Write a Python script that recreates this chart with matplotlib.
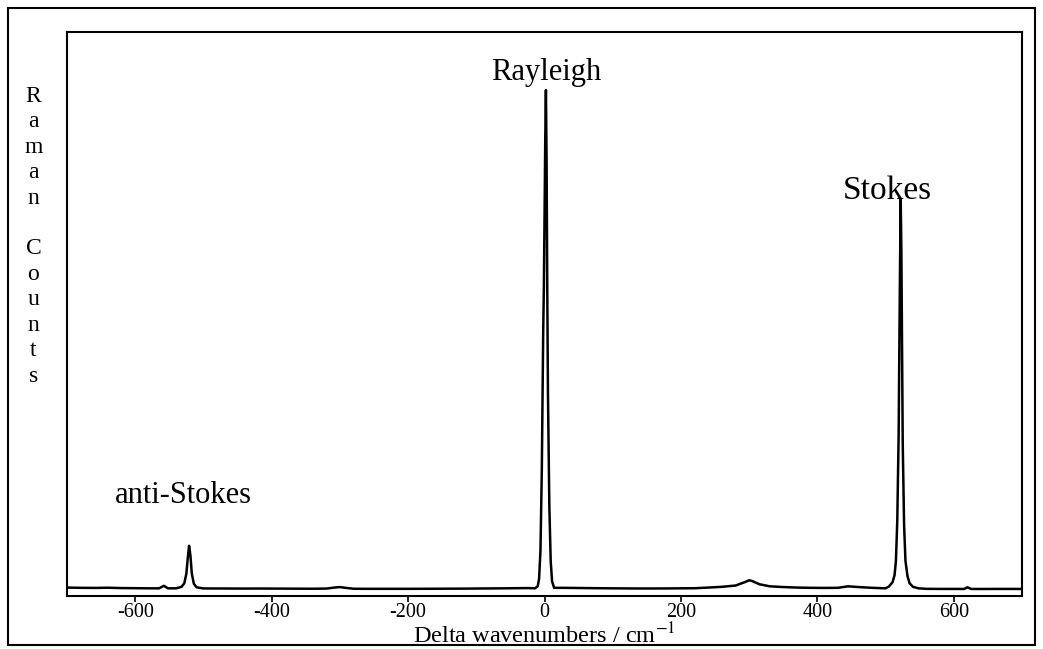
import numpy as np
import matplotlib
matplotlib.use("Agg")
import matplotlib.pyplot as plt
from matplotlib.patches import Rectangle

plt.rcParams['font.family'] = ['Liberation Serif', 'DejaVu Serif']
plt.rcParams['mathtext.fontset'] = 'stix'
plt.rcParams['axes.unicode_minus'] = False

# spectrum (delta wavenumber, counts)
shift = [-700, -680, -660, -640, -620, -600, -580, -565, -558, -552,
         -540, -532, -528, -525, -523, -521, -519, -517, -514, -510,
         -500, -480, -460, -440, -420, -400, -380, -360, -340, -320,
         -308, -300, -292, -280, -260, -240, -220, -200, -180, -160,
         -140, -120, -100, -80, -60, -40, -25,
         -14, -10, -8, -6, -4, -2, -1, 0, 1, 2, 3, 4, 5, 7, 9, 11, 14,
         25, 40, 60, 80, 100, 120, 140, 160, 180, 200,
         220, 240, 260, 280, 295, 300, 305, 315, 330, 350,
         370, 390, 410, 430, 445, 460, 480,
         500, 505, 510, 513, 515, 517, 519, 520, 521, 522, 523, 524, 525,
         527, 529, 532, 535, 540, 548,
         560, 580, 600, 615, 620, 625, 640, 660, 680, 700]
counts = [175, 170, 168, 172, 165, 163, 160, 160, 210, 160,
          160, 190, 260, 450, 750, 1000, 800, 450, 250, 180,
          158, 157, 156, 155, 156, 155, 154, 153, 152, 155,
          175, 185, 170, 152, 150, 150, 150, 150, 151, 152,
          153, 154, 156, 158, 160, 163, 165,
          160, 200, 350, 900, 2500, 5200, 6100, 7500, 9000, 10000, 8600, 6000, 4000, 1800, 700, 300, 170,
          170, 168, 165, 162, 160, 158, 157, 157, 158, 160,
          162, 175, 190, 215, 290, 320, 300, 240, 200, 185,
          175, 170, 168, 170, 200, 185, 170,
          160, 200, 280, 420, 700, 1500, 3200, 4900, 6500, 7850, 6800, 4900, 3000,
          1400, 700, 400, 260, 190, 160,
          150, 148, 148, 148, 180, 148, 147, 148, 148, 148]

peak_labels = ["anti-Stokes", "Rayleigh", "Stokes"]
peak_pos = [-529, 2, 503]
label_height = [1850, 10200, 7850]

fig = plt.figure(figsize=(10.43, 6.49), dpi=100)
ax = fig.add_axes([0.0642, 0.081, 0.9158, 0.870])

ax.plot(shift, counts, color='black', lw=1.8)
ax.set_xlim(-700, 700)
ax.set_ylim(0, 11150)
ax.set_xticks([-600, -400, -200, 0, 200, 400, 600])
ax.set_yticks([])
ax.tick_params(axis='x', direction='out', length=4, width=1.2, labelsize=14.5, pad=0.5)
for s in ax.spines.values():
    s.set_linewidth(1.5)

# x label placed under the tick labels
fig.text(0.522, 0.021, "Delta wavenumbers / cm$^{-1}$", ha='center', va='center', fontsize=17.5)

for lab, xp, yp in zip(peak_labels, peak_pos, label_height):
    ax.text(xp, yp, lab, ha='center', va='baseline', fontsize=22 if lab != "Stokes" else 24)

# stacked y label
fig.text(0.032, 0.636, "\n".join("Raman Counts"), ha='center', va='center',
         fontsize=17, linespacing=1.28)

fig.patches.append(Rectangle((0.008, 0.006), 0.984, 0.982, transform=fig.transFigure,
                             fill=False, lw=1.5, edgecolor='black'))

fig.savefig("out.png", dpi=100)
